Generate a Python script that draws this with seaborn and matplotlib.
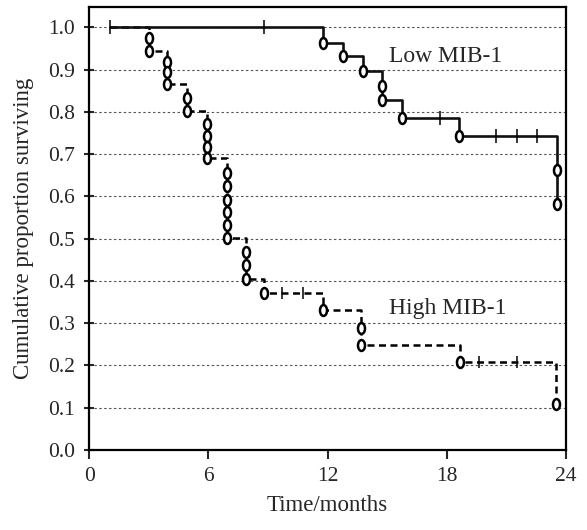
import numpy as np
import pandas as pd
import matplotlib
matplotlib.use("Agg")
import matplotlib.pyplot as plt
import seaborn as sns
from matplotlib.path import Path
from matplotlib.markers import MarkerStyle

# ---- data ----
low_start = 1.04
low_event_times = [11.77, 12.77, 13.78, 14.73, 14.73, 15.74, 18.61, 23.55, 23.55]
low_event_surv = [0.963, 0.932, 0.896, 0.862, 0.828, 0.786, 0.742, 0.663, 0.581]
low_censor_times = [1.04, 8.80, 17.66, 20.48, 21.53, 22.54]
low_censor_surv = [1.0, 1.0, 0.786, 0.742, 0.742, 0.742]

high_start = 1.04
high_event_times = [3.0, 3.0, 3.9, 3.9, 3.9, 4.9, 4.9,
                    5.91, 5.91, 5.91, 5.91,
                    6.92, 6.92, 6.92, 6.92, 6.92, 6.92,
                    7.89, 7.89, 7.89, 8.80, 11.78, 13.67, 13.67, 18.67, 23.51]
high_event_surv = [0.974, 0.945, 0.918, 0.894, 0.865, 0.832, 0.803,
                   0.772, 0.744, 0.716, 0.691,
                   0.656, 0.624, 0.592, 0.563, 0.533, 0.501,
                   0.469, 0.438, 0.405, 0.372, 0.332, 0.288, 0.249, 0.209, 0.109]
high_censor_times = [9.72, 10.78, 19.64, 21.55]
high_censor_surv = [0.372, 0.372, 0.209, 0.209]

x_ticks = [0, 6, 12, 18, 24]
y_ticks = [0.0, 0.1, 0.2, 0.3, 0.4, 0.5, 0.6, 0.7, 0.8, 0.9, 1.0]
labels = ["Low MIB-1", "High MIB-1"]

# ---- style ----
sns.set_style("ticks")
plt.rcParams["font.family"] = ["Liberation Serif", "DejaVu Serif"]

fig, ax = plt.subplots(figsize=(5.87, 5.30), dpi=100)
fig.subplots_adjust(left=89.3 / 587, right=566 / 587, bottom=1 - 450 / 530, top=1 - 6.7 / 530)

low_line = pd.DataFrame({"t": [low_start] + low_event_times, "s": [1.0] + low_event_surv})
high_line = pd.DataFrame({"t": [high_start] + high_event_times, "s": [1.0] + high_event_surv})

sns.lineplot(data=high_line, x="t", y="s", estimator=None, sort=False, ax=ax,
             drawstyle="steps-post", color="black", lw=1.8, linestyle=(0, (2.8, 1.8)), zorder=2)
sns.lineplot(data=low_line, x="t", y="s", estimator=None, sort=False, ax=ax,
             drawstyle="steps-post", color="#111111", lw=1.9, zorder=3)

circ = Path.unit_circle()
ell = Path(circ.vertices * np.array([0.64, 1.0]), circ.codes)
ell_marker = MarkerStyle(ell)

sns.scatterplot(x=high_event_times, y=high_event_surv, ax=ax, marker=ell_marker, s=62,
                color="white", edgecolor="black", linewidth=1.8, zorder=4)
sns.scatterplot(x=low_event_times, y=low_event_surv, ax=ax, marker=ell_marker, s=62,
                color="white", edgecolor="black", linewidth=1.8, zorder=4)

sns.scatterplot(x=low_censor_times, y=low_censor_surv, ax=ax, marker="|", s=95,
                color="black", linewidth=1.1, zorder=5)
sns.scatterplot(x=high_censor_times, y=high_censor_surv, ax=ax, marker="|", s=75,
                color="black", linewidth=1.1, zorder=5)

ax.text(15.1, 0.918, labels[0], ha="left", va="baseline", fontsize=17)
ax.text(15.1, 0.322, labels[1], ha="left", va="baseline", fontsize=17)

ax.set_xlim(0, 24)
ax.set_ylim(0, (450 - 6.7) / 422.7)
ax.set_xticks(x_ticks)
ax.set_xticklabels([str(v) for v in x_ticks])
ax.set_yticks(y_ticks)
ax.set_yticklabels([f"{v:.1f}" for v in y_ticks])
ax.yaxis.grid(True, linestyle=(0, (2.2, 2.2)), color="#555555", lw=0.8, zorder=0)
ax.set_axisbelow(True)

for sp in ax.spines.values():
    sp.set_visible(True)
    sp.set_linewidth(1.6)
    sp.set_color("black")

ax.tick_params(axis="y", direction="inout", length=7, width=1.5, labelsize=15.5, pad=7)
ax.tick_params(axis="x", direction="out", length=6.5, width=1.5, labelsize=15.5, pad=6)
ax.set_xlabel("Time/months", fontsize=16.5, labelpad=6)
ax.set_ylabel("Cumulative proportion surviving", fontsize=16.5, labelpad=10)

fig.savefig("out.png", dpi=100)
